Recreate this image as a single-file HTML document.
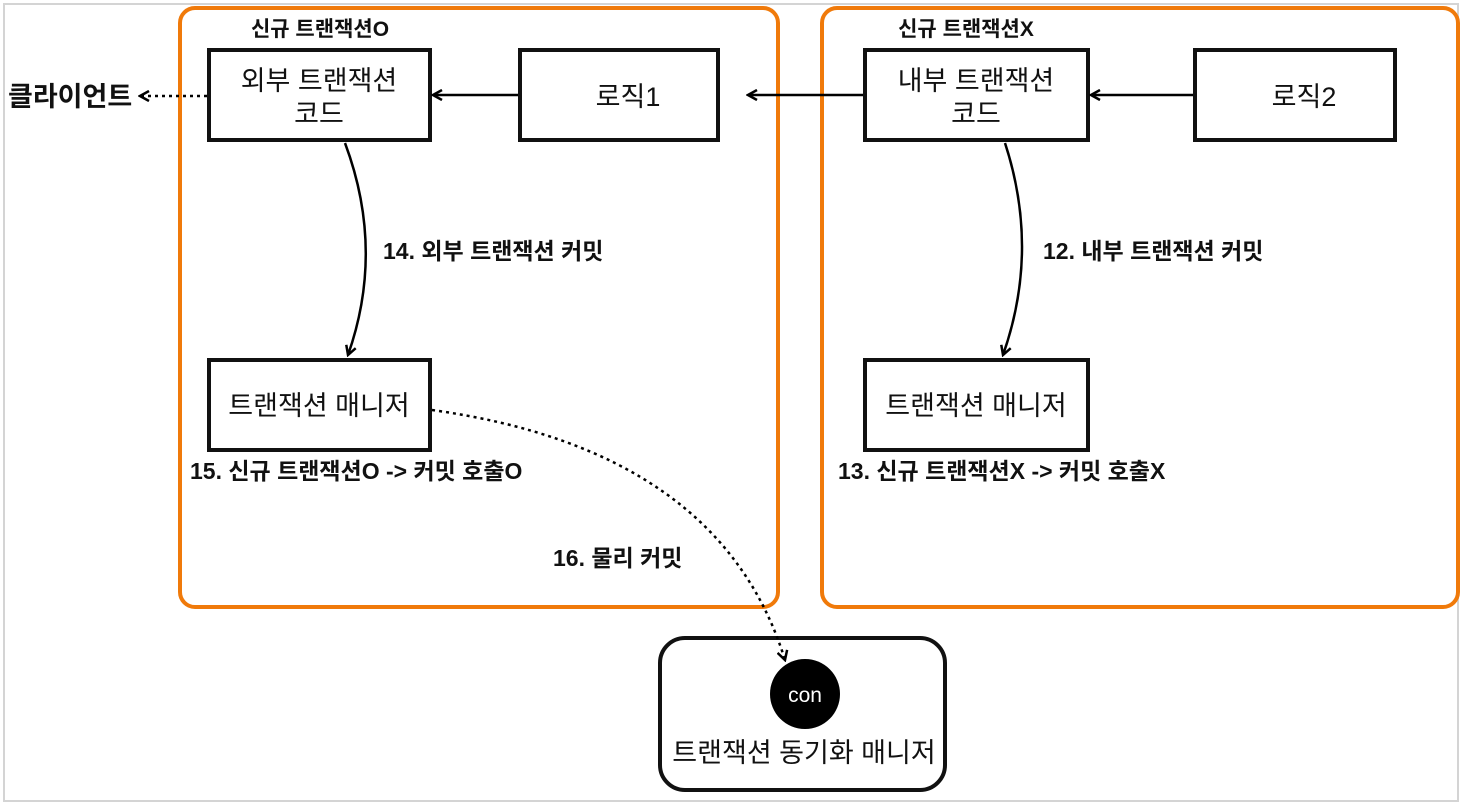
<!DOCTYPE html>
<html><head><meta charset="utf-8"><style>
body{margin:0;background:#fff;font-family:"Liberation Sans","Noto Sans CJK KR",sans-serif;}
svg text{font-family:"Liberation Sans","Noto Sans CJK KR",sans-serif;}
</style></head><body>
<svg width="1462" height="806" viewBox="0 0 1462 806" xmlns="http://www.w3.org/2000/svg">
<defs>
<marker id="a" markerWidth="12" markerHeight="12" refX="10" refY="6" orient="auto" markerUnits="userSpaceOnUse">
<path d="M1,1 L10,6 L1,11" fill="none" stroke="#000" stroke-width="2.5"/></marker>
</defs>
<rect x="4" y="4" width="1454" height="797" fill="#fff" stroke="#d4d4d4" stroke-width="2"/>
<rect x="180" y="8" width="598" height="599" rx="15" fill="none" stroke="#f07a0a" stroke-width="4"/>
<rect x="822" y="8" width="636" height="599" rx="15" fill="none" stroke="#f07a0a" stroke-width="4"/>
<g font-weight="bold" font-size="21" fill="#111" text-anchor="middle">
<text x="320" y="36">신규 트랜잭션O</text>
<text x="966" y="36">신규 트랜잭션X</text>
</g>
<g fill="#fff" stroke="#111" stroke-width="4">
<rect x="209" y="50" width="221" height="90"/>
<rect x="520" y="50" width="198" height="90"/>
<rect x="865" y="50" width="223" height="90"/>
<rect x="1195" y="50" width="200" height="90"/>
<rect x="209" y="360" width="221" height="90"/>
<rect x="865" y="360" width="223" height="90"/>
<rect x="660" y="638" width="285" height="152" rx="25"/>
</g>
<g font-size="27" fill="#111" text-anchor="middle">
<text x="319" y="90">외부 트랜잭션</text><text x="319" y="123">코드</text>
<text x="628" y="106">로직1</text>
<text x="976" y="90">내부 트랜잭션</text><text x="976" y="123">코드</text>
<text x="1304" y="106">로직2</text>
<text x="319" y="415">트랜잭션 매니저</text>
<text x="976" y="415">트랜잭션 매니저</text>
<text x="804" y="762">트랜잭션 동기화 매니저</text>
</g>
<text x="8" y="106" font-size="27" font-weight="bold" fill="#111">클라이언트</text>
<circle cx="805" cy="694" r="35" fill="#000"/>
<text x="805" y="702" font-size="21" fill="#fff" text-anchor="middle">con</text>
<g stroke="#000" stroke-width="2.5" fill="none" marker-end="url(#a)">
<path d="M207,96 L140,96" stroke-dasharray="3,4"/>
<path d="M518,95 L433,95"/>
<path d="M863,95 L748,95"/>
<path d="M1193,95 L1091,95"/>
<path d="M345,143 Q385,250 348,355"/>
<path d="M1005,143 Q1040,250 1003,355"/>
<path d="M432,410 Q720,450 785,660" stroke-dasharray="3,4"/>
</g>
<g font-weight="bold" font-size="23" fill="#111">
<text x="383" y="259">14. 외부 트랜잭션 커밋</text>
<text x="1043" y="259">12. 내부 트랜잭션 커밋</text>
<text x="190" y="479">15. 신규 트랜잭션O -&gt; 커밋 호출O</text>
<text x="838" y="479">13. 신규 트랜잭션X -&gt; 커밋 호출X</text>
<text x="553" y="566">16. 물리 커밋</text>
</g>
</svg>
</body></html>
